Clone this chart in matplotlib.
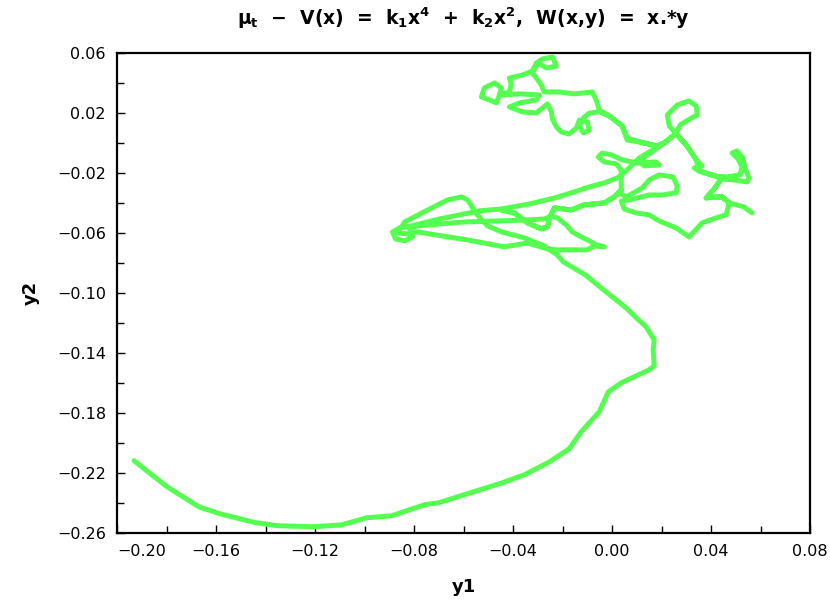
import numpy as np
import matplotlib
matplotlib.use("Agg")
import matplotlib.pyplot as plt
from matplotlib.ticker import FixedLocator

# trajectory (y1, y2), in path order
# tangle part: right tail, loops, top cluster, long diagonal, left tip
y1_tangle = [
    0.0566, 0.0533, 0.0501, 0.0473, 0.0461, 0.0420, 0.0364, 0.0311, 0.0259, 0.0190,
    0.0150, 0.0098, 0.0049, 0.0037, 0.0069, 0.0150, 0.0203, 0.0259, 0.0263, 0.0247,
    0.0190, 0.0150, 0.0122, 0.0057, 0.0037, 0.0037,
    0.0009, -0.0031, -0.0112, -0.0165, -0.0233, -0.0253, -0.0261, -0.0286, -0.0342, -0.0395, -0.0447,
    -0.0395, -0.0342, -0.0286, -0.0261, -0.0253, -0.0233, -0.0165, -0.0112, -0.0031, 0.0009, 0.0037,
    0.0037, 0.0037,
    0.0017, -0.0031, -0.0056, -0.0040, -0.0003, 0.0041, 0.0098, 0.0178, 0.0190, 0.0130, 0.0106,
    0.0150, 0.0203, 0.0259, 0.0303, 0.0340, 0.0364, 0.0332, 0.0352, 0.0416, 0.0465, 0.0517,
    0.0525, 0.0509, 0.0485, 0.0505, 0.0529, 0.0537, 0.0553, 0.0545, 0.0493, 0.0441, 0.0412,
    0.0380, 0.0404, 0.0445, 0.0473,
    0.0445, 0.0380, 0.0412, 0.0441, 0.0416, 0.0352, 0.0340, 0.0303, 0.0259,
    0.0231, 0.0223, 0.0263, 0.0311, 0.0340, 0.0344, 0.0307, 0.0275, 0.0259, 0.0211, 0.0182,
    0.0110, 0.0061, 0.0041, -0.0011, -0.0052,
    -0.0092, -0.0116, -0.0132, -0.0116, -0.0092, -0.0100, -0.0132, -0.0144, -0.0173, -0.0205,
    -0.0225, -0.0241, -0.0245, -0.0261, -0.0306, -0.0362, -0.0415, -0.0374, -0.0306, -0.0294,
    -0.0374, -0.0455, -0.0467, -0.0495, -0.0528, -0.0516, -0.0475, -0.0447, -0.0455, -0.0415,
    -0.0407, -0.0415, -0.0362, -0.0322, -0.0306, -0.0282, -0.0241, -0.0225, -0.0265, -0.0298,
    -0.0322, -0.0306, -0.0286, -0.0274, -0.0213, -0.0153, -0.0080, -0.0064, -0.0052, -0.0011,
    0.0041, 0.0061, 0.0110, 0.0182, 0.0211,
    0.0158, 0.0110, 0.0069, 0.0029, -0.0031, -0.0092, -0.0153, -0.0233, -0.0334, -0.0447,
    -0.0536, -0.0596, -0.0697, -0.0810,
    -0.0858, -0.0887, -0.0875, -0.0838, -0.0806, -0.0818, -0.0786,
    -0.0697, -0.0596, -0.0447, -0.0334, -0.0274, -0.0245,
    -0.0221, -0.0185, -0.0161, -0.0124, -0.0092, -0.0064, -0.0031,
    -0.0072, -0.0100, -0.0173, -0.0221, -0.0261, -0.0342, -0.0435, -0.0584, -0.0737, -0.0786, -0.0826,
    -0.0866, -0.0838, -0.0745, -0.0665, -0.0608, -0.0584, -0.0544, -0.0503, -0.0447, -0.0354,
    -0.0274, -0.0221,
]
y2_tangle = [
    -0.0467, -0.0427, -0.0413, -0.0400, -0.0480, -0.0500, -0.0533, -0.0627, -0.0567, -0.0520,
    -0.0480, -0.0467, -0.0440, -0.0387, -0.0380, -0.0347, -0.0347, -0.0333, -0.0287, -0.0227,
    -0.0213, -0.0247, -0.0300, -0.0360, -0.0340, -0.0313,
    -0.0360, -0.0400, -0.0413, -0.0447, -0.0433, -0.0500, -0.0560, -0.0573, -0.0533, -0.0467, -0.0447,
    -0.0467, -0.0533, -0.0573, -0.0560, -0.0500, -0.0433, -0.0447, -0.0413, -0.0400, -0.0360, -0.0313,
    -0.0260, -0.0180,
    -0.0140, -0.0127, -0.0093, -0.0067, -0.0080, -0.0113, -0.0133, -0.0127, -0.0147, -0.0153, -0.0120,
    -0.0073, -0.0007, 0.0060, -0.0020, -0.0113, -0.0153, -0.0167, -0.0187, -0.0220, -0.0227, -0.0213,
    -0.0160, -0.0107, -0.0067, -0.0053, -0.0100, -0.0167, -0.0233, -0.0260, -0.0247, -0.0240, -0.0307,
    -0.0367, -0.0360, -0.0360, -0.0400,
    -0.0360, -0.0367, -0.0307, -0.0240, -0.0220, -0.0187, -0.0113, -0.0020, 0.0060,
    0.0113, 0.0187, 0.0253, 0.0280, 0.0247, 0.0187, 0.0153, 0.0120, 0.0067, 0.0000, -0.0020,
    0.0007, 0.0020, 0.0113, 0.0180, 0.0207,
    0.0200, 0.0167, 0.0113, 0.0067, 0.0087, 0.0140, 0.0153, 0.0100, 0.0060, 0.0073,
    0.0107, 0.0160, 0.0207, 0.0260, 0.0200, 0.0207, 0.0240, 0.0267, 0.0287, 0.0320,
    0.0327, 0.0320, 0.0267, 0.0287, 0.0307, 0.0367, 0.0400, 0.0367, 0.0320, 0.0340,
    0.0393, 0.0433, 0.0453, 0.0480, 0.0533, 0.0560, 0.0573, 0.0513, 0.0500, 0.0533,
    0.0467, 0.0433, 0.0387, 0.0340, 0.0340, 0.0327, 0.0340, 0.0287, 0.0220, 0.0180,
    0.0113, 0.0033, 0.0007, -0.0020, 0.0000,
    -0.0053, -0.0100, -0.0167, -0.0227, -0.0267, -0.0293, -0.0327, -0.0367, -0.0407, -0.0440,
    -0.0453, -0.0473, -0.0507, -0.0553,
    -0.0567, -0.0593, -0.0640, -0.0653, -0.0627, -0.0573, -0.0553,
    -0.0540, -0.0527, -0.0520, -0.0513, -0.0507, -0.0487,
    -0.0500, -0.0547, -0.0593, -0.0627, -0.0653, -0.0680, -0.0693,
    -0.0687, -0.0713, -0.0713, -0.0713, -0.0707, -0.0667, -0.0693, -0.0647, -0.0607, -0.0593, -0.0607,
    -0.0600, -0.0527, -0.0447, -0.0380, -0.0360, -0.0380, -0.0480, -0.0553, -0.0593, -0.0633,
    -0.0687, -0.0747,
]

# smooth part: big arc to the right, then down and along the bottom to the left end
y1_arc = [
    -0.0197, -0.0108, -0.0044, 0.0057, 0.0094, 0.0138, 0.0170, 0.0166, 0.0170, 0.0150,
    0.0037, -0.0015, -0.0052, -0.0128, -0.0173, -0.0253, -0.0354, -0.0455, -0.0572, -0.0701,
    -0.0758, -0.0891, -0.0992, -0.1092, -0.1205, -0.1351, -0.1439, -0.1585, -0.1669, -0.1798,
    -0.1931,
]
y2_arc = [
    -0.0793, -0.0880, -0.0967, -0.1100, -0.1160, -0.1227, -0.1313, -0.1380, -0.1487, -0.1513,
    -0.1600, -0.1660, -0.1793, -0.1933, -0.2040, -0.2127, -0.2213, -0.2273, -0.2333, -0.2400,
    -0.2413, -0.2487, -0.2500, -0.2547, -0.2560, -0.2553, -0.2533, -0.2473, -0.2427, -0.2293,
    -0.2120,
]

y1 = np.array(y1_tangle + y1_arc)
y2 = np.array(y2_tangle + y2_arc)

xticks = np.round(np.arange(-0.20, 0.081, 0.04), 2)
yticks = np.round(np.arange(0.06, -0.261, -0.04), 2)

plt.rcParams['font.family'] = 'DejaVu Sans'
plt.rcParams['mathtext.default'] = 'bf'

fig = plt.figure(figsize=(8.3, 6.02), dpi=100)
ax = fig.add_axes([0.141, 0.115, 0.835, 0.797])

ax.plot(y1, y2, color='#55ff4f', lw=3.6, solid_joinstyle='round', solid_capstyle='round')

ax.set_xlim(-0.20, 0.08)
ax.set_ylim(-0.26, 0.06)
ax.xaxis.set_major_locator(FixedLocator(xticks))
ax.xaxis.set_minor_locator(FixedLocator(xticks[:-1] + 0.02))
ax.yaxis.set_major_locator(FixedLocator(yticks))
ax.yaxis.set_minor_locator(FixedLocator(yticks[:-1] - 0.02))
ax.set_xticklabels(['\u2212%.2f' % -v if v < 0 else '%.2f' % v for v in xticks])
ax.set_yticklabels(['\u2212%.2f' % -v if v < 0 else '%.2f' % v for v in yticks])
ax.get_xticklabels()[0].set_horizontalalignment('left')

ax.tick_params(which='both', direction='in', top=False, right=False,
               labelsize=11.5, colors='black', width=1)
ax.tick_params(which='major', length=6, pad=8)
ax.tick_params(which='minor', length=5)
for s in ax.spines.values():
    s.set_linewidth(1.6)

ax.set_xlabel('y1', fontsize=13, fontweight='bold', labelpad=14)
ax.set_ylabel('y2', fontsize=13, fontweight='bold', labelpad=12)
ax.set_title(r'$\mu_t$  $-$  V(x)  =  k$_1$x$^4$  +  k$_2$x$^2$,  W(x,y)  =  x.*y',
             fontsize=13.5, fontweight='bold', pad=20)

fig.savefig('out.png', dpi=100)
